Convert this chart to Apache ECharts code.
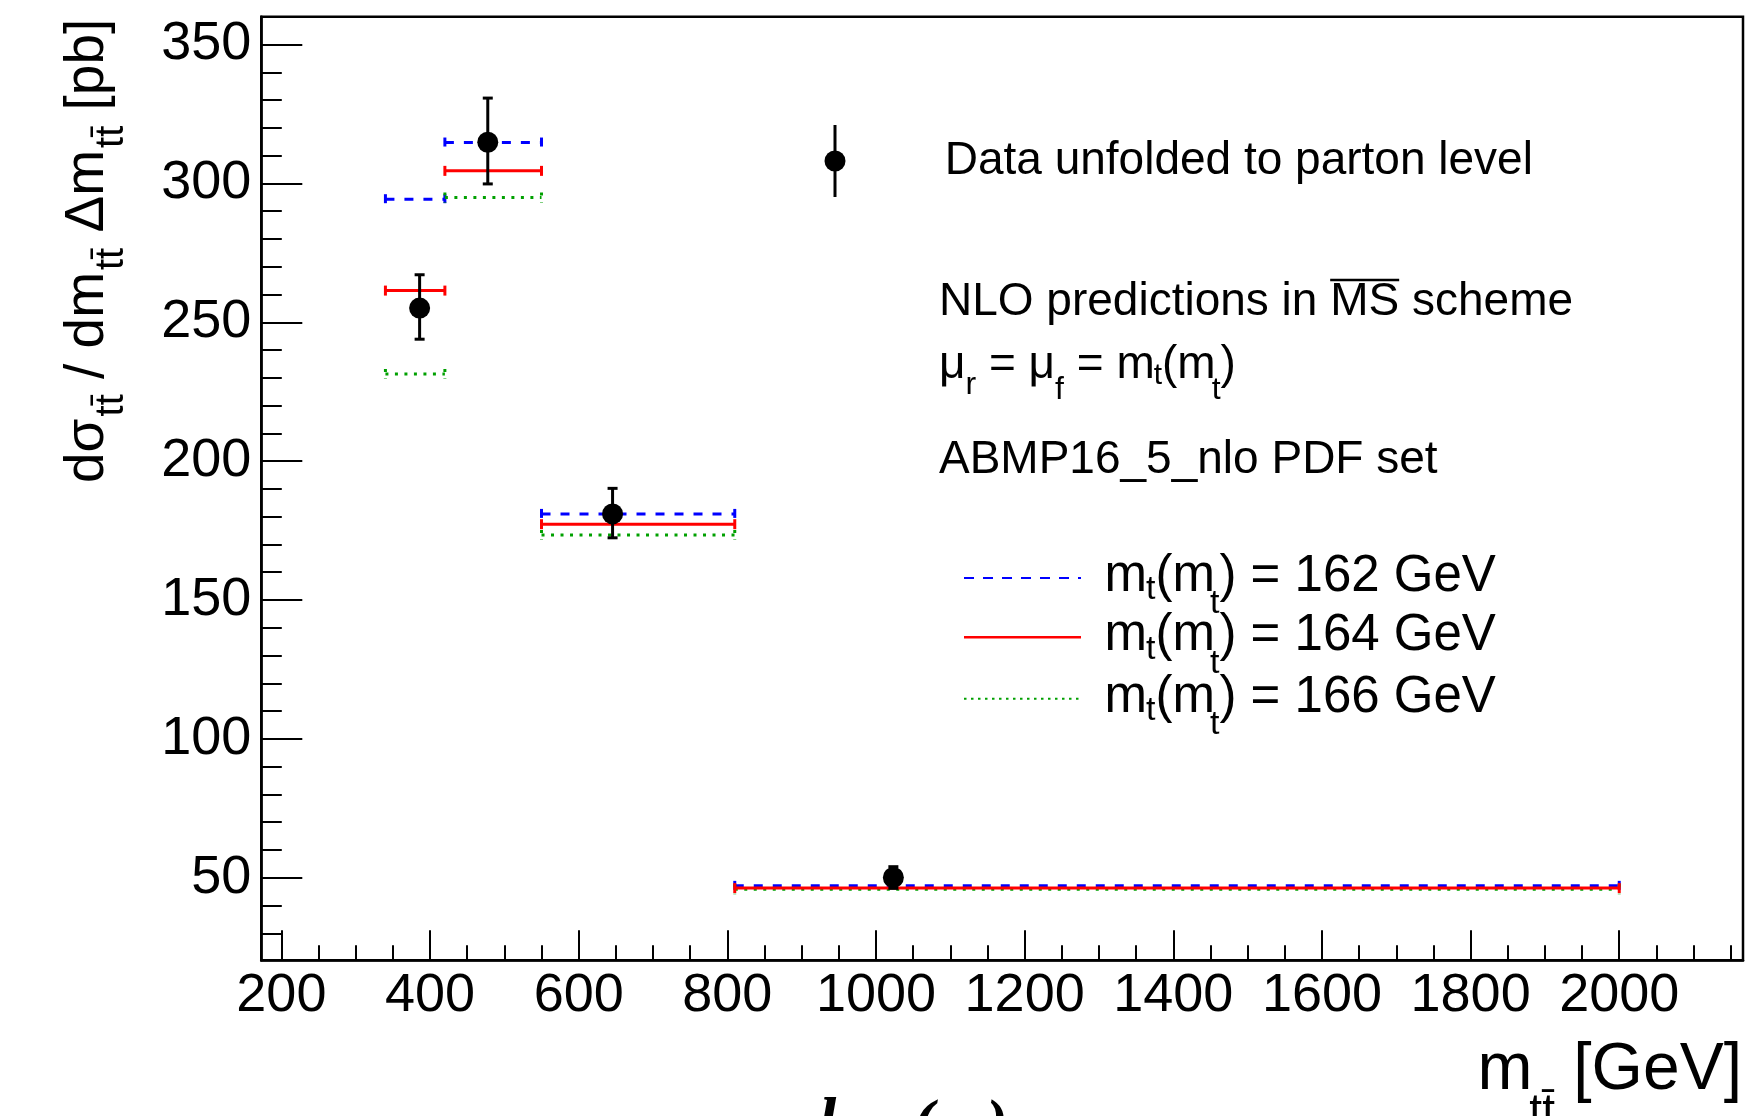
<!DOCTYPE html>
<html>
<head>
<meta charset="utf-8">
<script src="https://cdn.jsdelivr.net/npm/echarts@6/dist/echarts.min.js"></script>
<style>html,body{margin:0;padding:0;background:#fff;}#c{width:1753px;height:1116px;}</style>
</head>
<body>
<div id="c"></div>
<script>
// ---------------- data ----------------
const binEdges = [340, 420, 550, 810, 2000];
const dataX = [386, 477.7, 645.6, 1023.4];
const dataY = [255.1, 314.8, 181.0, 50.1];
const dataErrLow = [243.9, 299.8, 172.4, 46.2];
const dataErrHigh = [267.1, 330.7, 190.2, 54.0];
const pred162 = [294.3, 314.7, 181.0, 47.1];
const pred164 = [261.4, 304.5, 177.3, 46.3];
const pred166 = [231.4, 294.9, 173.4, 45.9];
const xMajorTicks = [200, 400, 600, 800, 1000, 1200, 1400, 1600, 1800, 2000];
const yMajorTicks = [50, 100, 150, 200, 250, 300, 350];
const X_MIN = 173, X_MAX = 2166.5, Y_MIN = 20.3, Y_MAX = 360;
const xMinorTicks = []; for (let v = 200; v <= 2150; v += 50) xMinorTicks.push(v);
const yMinorTicks = []; for (let v = 30; v <= 350; v += 10) yMinorTicks.push(v);

// ---------------- helpers ----------------
const FONT = '"Liberation Sans", Arial, Helvetica, sans-serif';
const mctx = document.createElement('canvas').getContext('2d');
function tw(t, s) { mctx.font = s + 'px ' + FONT; return mctx.measureText(t).width; }
function txt(x, y, t, s, extra) {
  return Object.assign({
    type: 'text', x: x, y: y, silent: true, z: 100,
    style: { text: t, fontSize: s, fontFamily: FONT, fill: '#000',
      align: 'left', verticalAlign: 'middle', textAlign: 'left', textVerticalAlign: 'middle' }
  }, extra || {});
}
function rich(x0, y0, segs) {
  let x = x0; const els = []; const pos = [];
  for (const g of segs) {
    x += (g.dx || 0);
    els.push(txt(x, y0 + (g.dy || 0), g.t, g.s));
    const w = tw(g.t, g.s);
    pos.push([x, x + w]);
    x += w;
  }
  return { els: els, width: x - x0, pos: pos };
}

const chart = echarts.init(document.getElementById('c'), null, { renderer: 'canvas', width: 1753, height: 1116 });

function hbarSeries(name, vals, color, dash, z) {
  return {
    type: 'custom', name: name, coordinateSystem: 'cartesian2d', xAxisIndex: 0, yAxisIndex: 0, z: z,
    data: vals.map((v, i) => [binEdges[i], binEdges[i + 1], v]),
    encode: { x: [0, 1], y: 2 },
    renderItem: function (params, api) {
      const a = api.coord([api.value(0), api.value(2)]);
      const b = api.coord([api.value(1), api.value(2)]);
      const st = { stroke: color, lineWidth: 3, lineDash: dash, fill: null, lineCap: 'butt' };
      return { type: 'group', children: [
        { type: 'line', shape: { x1: a[0], y1: a[1], x2: b[0], y2: b[1] }, style: st },
        { type: 'line', shape: { x1: a[0], y1: a[1] - 5, x2: a[0], y2: a[1] + 5 }, style: st },
        { type: 'line', shape: { x1: b[0], y1: b[1] - 5, x2: b[0], y2: b[1] + 5 }, style: st }
      ] };
    }
  };
}

const errSeries = {
  type: 'custom', name: 'dataErr', coordinateSystem: 'cartesian2d', z: 20,
  data: dataX.map((x, i) => [x, dataErrLow[i], dataErrHigh[i]]),
  encode: { x: 0, y: [1, 2] },
  renderItem: function (params, api) {
    const lo = api.coord([api.value(0), api.value(1)]);
    const hi = api.coord([api.value(0), api.value(2)]);
    const st = { stroke: '#000', lineWidth: 3, fill: null };
    return { type: 'group', children: [
      { type: 'line', shape: { x1: lo[0], y1: lo[1], x2: hi[0], y2: hi[1] }, style: st },
      { type: 'line', shape: { x1: lo[0] - 5, y1: lo[1], x2: lo[0] + 5, y2: lo[1] }, style: st },
      { type: 'line', shape: { x1: hi[0] - 5, y1: hi[1], x2: hi[0] + 5, y2: hi[1] }, style: st }
    ] };
  }
};

// ---------------- text / legend graphics ----------------
const G = [];
const LS = 46;   // annotation font size
const ES = 51;   // legend entry font size
const SS = 34;   // subscript size

// Data legend marker
G.push({ type: 'line', silent: true, z: 100, shape: { x1: 835, y1: 125, x2: 835, y2: 197 }, style: { stroke: '#000', lineWidth: 3 } });
G.push({ type: 'circle', silent: true, z: 101, shape: { cx: 835, cy: 161, r: 10.5 }, style: { fill: '#000' } });
G.push(txt(944.7, 161, 'Data unfolded to parton level', LS));

// NLO predictions in MS-bar scheme
const t2 = rich(939, 302, [{ t: 'NLO predictions in ', s: LS }, { t: 'MS', s: LS }, { t: ' scheme', s: LS }]);
G.push(...t2.els);
G.push({ type: 'line', silent: true, z: 100, shape: { x1: t2.pos[1][0], y1: 280, x2: t2.pos[1][1], y2: 280 }, style: { stroke: '#000', lineWidth: 2.5 } });

// mu_r = mu_f = m_t(m_t)
const t3 = rich(939, 365, [
  { t: 'μ', s: LS }, { t: 'r', s: 32, dy: 20 }, { t: ' = μ', s: LS }, { t: 'f', s: 32, dy: 25 },
  { t: ' = m', s: LS }, { t: 't', s: 30, dy: 11, dx: -1 }, { t: '(m', s: LS }, { t: 't', s: 32, dy: 25, dx: -4 }, { t: ')', s: LS }
]);
G.push(...t3.els);

G.push(txt(939, 460.6, 'ABMP16_5_nlo PDF set', LS));

// Legend entries
const legY = [578, 637.3, 698.8];
const legStyle = [
  { stroke: '#0000ff', lineWidth: 2, lineDash: [10, 9] },
  { stroke: '#ff0000', lineWidth: 2.5 },
  { stroke: '#00a000', lineWidth: 2, lineDash: [2.5, 4.5] }
];
const legLabels = ['162', '164', '166'];
for (let i = 0; i < 3; i++) {
  G.push({ type: 'line', silent: true, z: 100, shape: { x1: 964, y1: legY[i], x2: 1081, y2: legY[i] }, style: Object.assign({ fill: null }, legStyle[i]) });
  const r = rich(1104.6, legY[i] - 1, [
    { t: 'm', s: ES }, { t: 't', s: SS, dy: 13, dx: -1 }, { t: '(m', s: ES }, { t: 't', s: SS, dy: 27, dx: -5 },
    { t: ') = ' + legLabels[i] + ' GeV', s: ES }
  ]);
  G.push(...r.els);
}

// X axis title (right aligned to frame)
const xtSegs = [{ t: 'm', s: 66 }, { t: 'tt\u0304', s: 46, dy: 42, dx: -3 }, { t: ' [GeV]', s: 66 }];
let xtW = 0; xtSegs.forEach(g => { xtW += tw(g.t, g.s) + (g.dx || 0); });
G.push(...rich(1742 - xtW, 1071, xtSegs).els);

// Y axis title (rotated)
const ytSegs = [
  { t: 'dσ', s: 55 }, { t: 'tt\u0304', s: 40, dy: 24, dx: 2 }, { t: ' / dm', s: 55 }, { t: 'tt\u0304', s: 40, dy: 24, dx: 2 },
  { t: ' Δm', s: 55 }, { t: 'tt\u0304', s: 40, dy: 24, dx: 2 }, { t: ' [pb]', s: 55 }
];
const ytR = rich(0, 0, ytSegs);
G.push({ type: 'group', x: 88, y: 483, rotation: Math.PI / 2, silent: true, children: ytR.els });

// cut-off glyphs at the bottom edge
const cutStyle = { fontFamily: '"Liberation Serif", serif', fontWeight: 'bold', fontStyle: 'italic', fill: '#000', align: 'left', verticalAlign: 'top', textAlign: 'left', textVerticalAlign: 'top' };
G.push({ type: 'text', x: 818, y: 1093, silent: true, style: Object.assign({ text: 'l', fontSize: 66 }, cutStyle) });
G.push({ type: 'text', x: 912, y: 1095, silent: true, style: Object.assign({ text: '(', fontSize: 66 }, cutStyle) });
G.push({ type: 'text', x: 986, y: 1095, silent: true, style: Object.assign({ text: ')', fontSize: 66 }, cutStyle) });

// ---------------- option ----------------
const tickLine = { color: '#000', width: 2 };
const plainNum = v => String(v);
const option = {
  animation: false,
  backgroundColor: '#fff',
  grid: { left: 261.3, right: 10, top: 16.7, bottom: 155.7, show: true, borderColor: '#000', borderWidth: 2.5,
    backgroundColor: 'transparent', containLabel: false, outerBoundsMode: 'none' },
  xAxis: [
    { type: 'value', min: X_MIN, max: X_MAX, position: 'bottom', splitLine: { show: false },
      axisLine: { show: true, onZero: false, lineStyle: { color: '#000', width: 2.5 } },
      axisTick: { show: true, inside: true, length: 30, customValues: xMajorTicks, lineStyle: tickLine },
      axisLabel: { show: true, customValues: xMajorTicks, formatter: plainNum, margin: 9, fontSize: 54, fontFamily: FONT, color: '#000' } },
    { type: 'value', min: X_MIN, max: X_MAX, position: 'bottom', splitLine: { show: false },
      axisLine: { show: false },
      axisTick: { show: true, inside: true, length: 15, customValues: xMinorTicks, lineStyle: tickLine },
      axisLabel: { show: false } }
  ],
  yAxis: [
    { type: 'value', min: Y_MIN, max: Y_MAX, position: 'left', splitLine: { show: false },
      axisLine: { show: true, onZero: false, lineStyle: { color: '#000', width: 2.5 } },
      axisTick: { show: true, inside: true, length: 41, customValues: yMajorTicks, lineStyle: tickLine },
      axisLabel: { show: true, customValues: yMajorTicks, formatter: plainNum, margin: 10, fontSize: 54, fontFamily: FONT, color: '#000' } },
    { type: 'value', min: Y_MIN, max: Y_MAX, position: 'left', splitLine: { show: false },
      axisLine: { show: false },
      axisTick: { show: true, inside: true, length: 20.5, customValues: yMinorTicks, lineStyle: tickLine },
      axisLabel: { show: false } }
  ],
  series: [
    hbarSeries('m_t(m_t) = 162 GeV', pred162, '#0000ff', [9, 10], 10),
    hbarSeries('m_t(m_t) = 166 GeV', pred166, '#00a000', [3, 6.5], 11),
    hbarSeries('m_t(m_t) = 164 GeV', pred164, '#ff0000', null, 12),
    errSeries,
    { type: 'scatter', name: 'Data unfolded to parton level', z: 30, symbol: 'circle', symbolSize: 21,
      itemStyle: { color: '#000', opacity: 1 }, emphasis: { disabled: true },
      data: dataX.map((x, i) => [x, dataY[i]]) }
  ],
  graphic: { elements: G }
};
chart.setOption(option);
</script>
</body>
</html>
